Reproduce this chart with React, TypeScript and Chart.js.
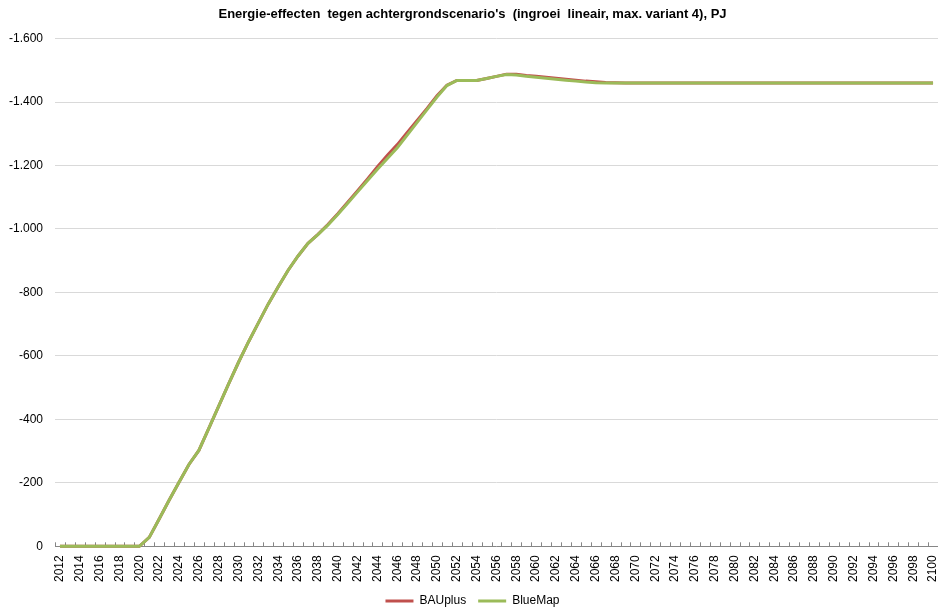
import React, { useEffect, useRef } from "react";
import { Chart, registerables } from "chart.js";

Chart.register(...registerables);

const years: string[] = [
  "2012","2013","2014","2015","2016","2017","2018","2019","2020","2021",
  "2022","2023","2024","2025","2026","2027","2028","2029","2030","2031",
  "2032","2033","2034","2035","2036","2037","2038","2039","2040","2041",
  "2042","2043","2044","2045","2046","2047","2048","2049","2050","2051",
  "2052","2053","2054","2055","2056","2057","2058","2059","2060","2061",
  "2062","2063","2064","2065","2066","2067","2068","2069","2070","2071",
  "2072","2073","2074","2075","2076","2077","2078","2079","2080","2081",
  "2082","2083","2084","2085","2086","2087","2088","2089","2090","2091",
  "2092","2093","2094","2095","2096","2097","2098","2099","2100",
];

const bauPlus: number[] = [
  0, 0, 0, 0, 0, 0, 0, 0, 0, -28,
  -86, -145, -202, -258, -302, -372, -442, -512, -580, -644,
  -704, -764, -818, -870, -915, -955, -983, -1014, -1048, -1084,
  -1121, -1158, -1196, -1232, -1266, -1304, -1342, -1380, -1420, -1453,
  -1468, -1468, -1468, -1474, -1481, -1488, -1488, -1484, -1481, -1478,
  -1475, -1472, -1469, -1466, -1464, -1462, -1461, -1460, -1460, -1460,
  -1460, -1460, -1460, -1460, -1460, -1460, -1460, -1460, -1460, -1460,
  -1460, -1460, -1460, -1460, -1460, -1460, -1460, -1460, -1460, -1460,
  -1460, -1460, -1460, -1460, -1460, -1460, -1460, -1460, -1460,
];

const blueMap: number[] = [
  0, 0, 0, 0, 0, 0, 0, 0, 0, -28,
  -86, -145, -202, -258, -302, -372, -442, -512, -580, -644,
  -704, -764, -818, -870, -915, -955, -982, -1012, -1046, -1081,
  -1117, -1153, -1188, -1222, -1256, -1296, -1336, -1376, -1416, -1452,
  -1468, -1468, -1468, -1474, -1481, -1487, -1485, -1481, -1478, -1475,
  -1472, -1469, -1466, -1463, -1461, -1460, -1460, -1460, -1460, -1460,
  -1460, -1460, -1460, -1460, -1460, -1460, -1460, -1460, -1460, -1460,
  -1460, -1460, -1460, -1460, -1460, -1460, -1460, -1460, -1460, -1460,
  -1460, -1460, -1460, -1460, -1460, -1460, -1460, -1460, -1460,
];

const titleText = "Energie-effecten  tegen achtergrondscenario's  (ingroei  lineair, max. variant 4), PJ";
const yMin = -1600;
const yMax = 0;
const yStep = 200;

const RED = "#C0504D";
const GREEN = "#9BBB59";
const FONT = "'Liberation Sans', Arial, sans-serif";

function fmtNL(v: number): string {
  const neg = v < 0;
  const s = Math.round(Math.abs(v)).toString();
  const parts: string[] = [];
  for (let i = s.length; i > 0; i -= 3) {
    parts.unshift(s.substring(Math.max(0, i - 3), i));
  }
  return (neg ? "-" : "") + parts.join(".");
}

const innerTicks = {
  id: "innerTicks",
  beforeDatasetsDraw(chart: any) {
    const x = chart.scales.x;
    const y = chart.scales.y;
    const ctx = chart.ctx;
    const n = chart.data.labels.length;
    const half = (x.getPixelForValue(1) - x.getPixelForValue(0)) / 2;
    const base = y.getPixelForValue(0);
    ctx.save();
    ctx.strokeStyle = "#868686";
    ctx.lineWidth = 1;
    ctx.beginPath();
    for (let i = 0; i <= n; i++) {
      const px = Math.round(x.getPixelForValue(i) - half) + 0.5;
      ctx.moveTo(px, base);
      ctx.lineTo(px, base - 4);
    }
    ctx.stroke();
    ctx.beginPath();
    ctx.moveTo(x.left, Math.round(base) + 0.5);
    ctx.lineTo(x.right, Math.round(base) + 0.5);
    ctx.stroke();
    ctx.restore();
  },
};

export default function App() {
  const ref = useRef<HTMLCanvasElement | null>(null);
  useEffect(() => {
    if (!ref.current) return;
    const chart = new Chart(ref.current, {
      type: "line",
      data: {
        labels: years,
        datasets: [
          {
            label: "BAUplus",
            data: bauPlus,
            borderColor: RED,
            backgroundColor: RED,
            borderWidth: 3,
            pointRadius: 0,
            tension: 0,
            clip: false as any,
            order: 2,
          },
          {
            label: "BlueMap",
            data: blueMap,
            borderColor: GREEN,
            backgroundColor: GREEN,
            borderWidth: 3,
            pointRadius: 0,
            tension: 0,
            clip: false as any,
            order: 1,
          },
        ],
      },
      options: {
        animation: false,
        responsive: false,
        layout: { padding: { left: 0, right: -7, top: 4, bottom: -7 } },
        plugins: {
          title: {
            display: true,
            text: titleText,
            color: "#000",
            font: { family: FONT, size: 13, weight: "bold" },
            padding: { top: 3, bottom: 16 },
          },
          legend: {
            position: "bottom",
            labels: {
              boxWidth: 28,
              boxHeight: 3,
              color: "#000",
              font: { family: FONT, size: 12 },
              padding: 12,
              sort: (a: any, b: any) => a.datasetIndex - b.datasetIndex,
              generateLabels: (chart: any) =>
                (Chart as any).defaults.plugins.legend.labels
                  .generateLabels(chart)
                  .map((l: any) => ({ ...l, lineWidth: 0 })),
            },
          },
          tooltip: { enabled: false },
        },
        scales: {
          x: {
            offset: true,
            grid: { display: false },
            border: { display: false },
            afterFit: (s: any) => {
              s.paddingLeft = 0;
              s.paddingRight = 0;
            },
            ticks: {
              autoSkip: false,
              minRotation: 90,
              maxRotation: 90,
              color: "#000",
              padding: 1,
              font: { family: FONT, size: 12 },
              callback: (_v: any, i: number) => (i % 2 === 0 ? years[i] : ""),
            },
          },
          y: {
            reverse: true,
            min: yMin,
            max: yMax,
            grid: { color: "#D9D9D9", lineWidth: 1, drawTicks: false },
            border: { display: false },
            afterFit: (s: any) => {
              s.width = 55;
            },
            ticks: {
              stepSize: yStep,
              color: "#000",
              padding: 12,
              font: { family: FONT, size: 12 },
              callback: (v: any) => fmtNL(Number(v)),
            },
          },
        },
      },
      plugins: [innerTicks],
    });
    return () => chart.destroy();
  }, []);
  return (
    <div style={{ position: "absolute", left: 0, top: 0, width: 938, height: 610, background: "#fff", overflow: "hidden" }}>
      <canvas ref={ref} width={938} height={610} style={{ display: "block" }} />
    </div>
  );
}
